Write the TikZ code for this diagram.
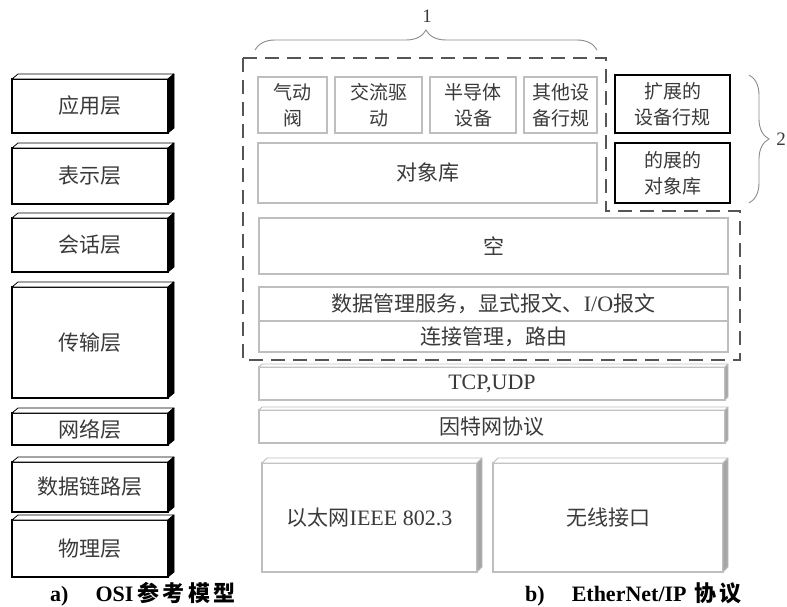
\documentclass[tikz,border=0pt]{standalone}
\usepackage{fontspec}
\setmainfont{Liberation Serif}
\newfontfamily\cjk{Noto Sans CJK SC}
\newfontfamily\cjkcap{Noto Sans CJK SC}[LetterSpace=15]
\usetikzlibrary{calc,decorations.pathreplacing}
\definecolor{boxgray}{HTML}{BEBEBE}
\definecolor{sidegray}{HTML}{A6A6A6}
\definecolor{txt}{HTML}{3A3A3A}
\definecolor{dashc}{HTML}{555555}
% #1 node, #2 dx, #3 dy, #4 side fill, #5 edge colour
\newcommand\threed[5]{%
  \filldraw[fill=white, draw=#5, line width=0.8pt, line join=round]
    (#1.north west) -- ++(#2,-#3) -- ($(#1.north east)+(#2,-#3)$) -- (#1.north east) -- cycle;
  \filldraw[fill=#4, draw=#5, line width=0.8pt, line join=round]
    (#1.north east) -- ++(#2,-#3) -- ($(#1.south east)+(#2,-#3)$) -- (#1.south east) -- cycle;}
\begin{document}
\begin{tikzpicture}[x=1pt,y=-1pt,
  osi/.style={draw=black, line width=1.3pt, fill=white, inner sep=0pt, outer sep=0pt,
    text=txt, font=\cjk\fontsize{21}{25}\selectfont},
  gbox/.style={draw=boxgray, line width=1.6pt, fill=white, inner sep=0pt, outer sep=0pt,
    text=txt, font=\cjk\fontsize{21}{25}\selectfont},
  sbox/.style={gbox, align=center, font=\cjk\fontsize{19}{26}\selectfont},
  ebox/.style={sbox, draw=black, line width=2.2pt},
  dashline/.style={draw=dashc, line width=1.8pt, dash pattern=on 14pt off 8pt},
  bracec/.style={draw=black!45, line width=0.9pt, decorate},
  lbl/.style={text=txt, font=\fontsize{19}{22}\selectfont},
  capt/.style={text=black, anchor=base west, inner sep=0pt, font=\bfseries\fontsize{22}{24}\selectfont}]
\fill[white] (0,0) rectangle (787,607);
\useasboundingbox (0,0) rectangle (787,607);

% ---------- OSI model ----------
\node[osi, minimum width=156, minimum height=54] (app) at (90,106) {应用层};
\threed{app}{6}{5}{black}{black}
\node[osi, minimum width=156, minimum height=56] (pres) at (90,176) {表示层};
\threed{pres}{6}{5}{black}{black}
\node[osi, minimum width=156, minimum height=54] (sess) at (90,245) {会话层};
\threed{sess}{6}{5}{black}{black}
\node[osi, minimum width=156, minimum height=111] (trans) at (90,342.5) {传输层};
\threed{trans}{6}{5}{black}{black}
\node[osi, minimum width=156, minimum height=32] (net) at (90,429) {网络层};
\threed{net}{6}{5}{black}{black}
\node[osi, minimum width=156, minimum height=50] (dl) at (90,487) {数据链路层};
\threed{dl}{6}{5}{black}{black}
\node[osi, minimum width=156, minimum height=57] (phy) at (90,548.5) {物理层};
\threed{phy}{6}{5}{black}{black}

% ---------- EtherNet/IP ----------
\node[sbox, minimum width=69, minimum height=56] (qd) at (292.5,105) {气动\\阀};
\node[sbox, minimum width=87, minimum height=56] (jl) at (378.5,105) {交流驱\\动};
\node[sbox, minimum width=86, minimum height=56] (bd) at (473,105) {半导体\\设备};
\node[sbox, minimum width=73, minimum height=56] (qt) at (560.5,105) {其他设\\备行规};
\node[gbox, minimum width=339, minimum height=60] (dxk) at (427.5,173) {对象库};
\node[ebox, minimum width=115, minimum height=58] (kz1) at (672.5,104) {扩展的\\设备行规};
\node[ebox, minimum width=115, minimum height=60] (kz2) at (672.5,173) {的展的\\对象库};
\node[gbox, minimum width=469, minimum height=56] (kong) at (493.5,246) {空};
\node[gbox, minimum width=469, minimum height=34] (sj) at (493.5,304) {数据管理服务，显式报文、{\rmfamily\fontsize{22}{25}\selectfont I/O}报文};
\node[gbox, minimum width=469, minimum height=31] (lj) at (493.5,336.5) {连接管理，路由};
\node[gbox, minimum width=466, minimum height=33] (tcp) at (492,383.5) {\rmfamily\fontsize{22}{25}\selectfont TCP,UDP};
\threed{tcp}{3}{3}{sidegray}{boxgray}
\node[gbox, minimum width=466, minimum height=33] (ip) at (492,426.5) {因特网协议};
\threed{ip}{3}{3}{sidegray}{boxgray}
\node[gbox, minimum width=215, minimum height=109] (eth) at (369.5,517.5) {以太网{\rmfamily\fontsize{22}{25}\selectfont IEEE 802.3}};
\threed{eth}{5}{5}{sidegray}{boxgray}
\node[gbox, minimum width=230, minimum height=109] (wl) at (608,517.5) {无线接口};
\threed{wl}{5}{5}{sidegray}{boxgray}

% dashed group outline
\draw[dashline] (243,58) -- (606,58) -- (606,211) -- (740,211) -- (740,360) -- (243,360) -- cycle;

% braces and labels
\draw[bracec, decoration={brace, amplitude=20pt}] (255,50) -- (597,50);
\node[lbl] (l1) at (427,16) {1};
\draw[bracec, decoration={brace, amplitude=20pt}] (749,75) -- (749,203);
\node[lbl] (l2) at (781,139) {2};

% captions
\node[capt] (capa) at (50,601) {a)\hspace{27pt}OSI\hspace{4pt}{\cjkcap 参考模型}};
\node[capt] (capb) at (525,601) {b)\hspace{27pt}EtherNet/IP\hspace{8pt}{\cjkcap 协议}};
\end{tikzpicture}
\end{document}
